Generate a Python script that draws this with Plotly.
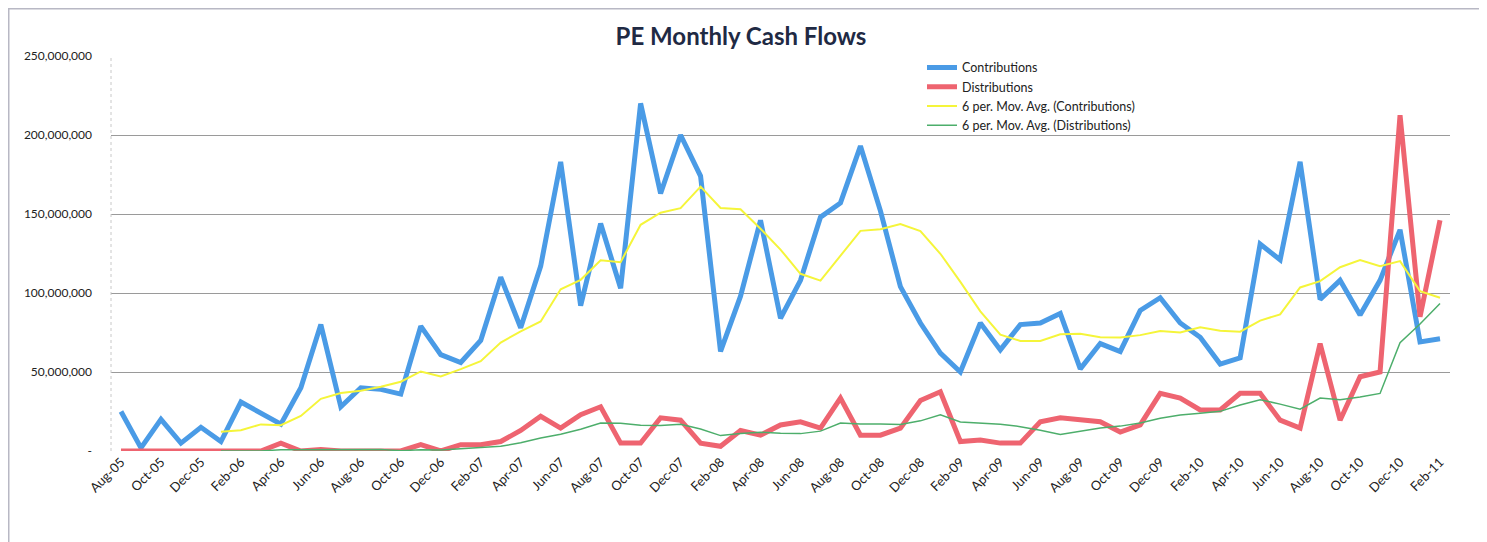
import pandas as pd
import plotly.graph_objects as go

months = pd.date_range("2005-08-01", "2011-02-01", freq="MS")
month_labels = [d.strftime("%b-%y") for d in months]

contributions = [
    25, 2, 20, 5, 15, 6, 31, 24, 17, 40, 80, 28, 40, 39, 36, 79, 61, 56, 70, 110,
    78, 117, 183, 92, 144, 103, 220, 163, 200, 174, 63, 98, 146, 84, 108, 148, 157,
    193, 152, 104, 81, 62, 50, 81, 64, 80, 81, 87, 52, 68, 63, 89, 97, 81, 72, 55,
    59, 131, 121, 183, 96, 108, 86, 108, 140, 69, 71,
]
distributions = [
    0, 0, 0, 0, 0, 0, 0, 0, 5, 0, 1, 0, 0, 0, 0, 4, 0, 4, 4, 6,
    13, 22, 14.5, 23, 28, 5, 5, 21, 19.5, 5, 3, 13, 10, 16.5, 18.5, 14.5, 33.5,
    10, 10, 14.5, 32, 37.5, 6, 7, 5, 5, 18.5, 21, 19.5, 18.5, 12, 16.5, 36.5, 33.5,
    26, 26, 36.5, 36.5, 19.5, 14.5, 68, 19.5, 47, 50, 212.5, 85, 146,
]
contrib = [v * 1e6 for v in contributions]
distrib = [v * 1e6 for v in distributions]

# Excel-style 6 period moving average trendlines (computed from the series)
ma_contrib = pd.Series(contrib).rolling(6).mean().tolist()
ma_distrib = pd.Series(distrib).rolling(6).mean().tolist()

y_tickvals = [0, 50e6, 100e6, 150e6, 200e6, 250e6]
y_ticktext = ["-", "50,000,000", "100,000,000", "150,000,000", "200,000,000", "250,000,000"]
x_tick_labels = month_labels[::2]

FONT = "Lato, 'Open Sans', sans-serif"

# page body has an 8px margin: figure is sized to fit the 1487x542 window
W, H = 1479, 534
L, T, PW, PH = 103, 48, 1339, 395

fig = go.Figure()
fig.add_trace(go.Scatter(x=month_labels, y=contrib, mode="lines", name="Contributions",
                         line=dict(color="#4A9BE6", width=5)))
fig.add_trace(go.Scatter(x=month_labels, y=distrib, mode="lines", name="Distributions",
                         line=dict(color="#EE6470", width=5)))
fig.add_trace(go.Scatter(x=month_labels, y=ma_contrib, mode="lines",
                         name="6 per. Mov. Avg. (Contributions)",
                         line=dict(color="#F5F53A", width=2)))
fig.add_trace(go.Scatter(x=month_labels, y=ma_distrib, mode="lines",
                         name="6 per. Mov. Avg. (Distributions)",
                         line=dict(color="#4DAE6B", width=1.5)))

fig.update_layout(
    width=W, height=H,
    margin=dict(l=L, r=W - L - PW, t=T, b=H - T - PH),
    paper_bgcolor="white", plot_bgcolor="white",
    font=dict(family=FONT, size=12, color="#222"),
    title=dict(text="<b>PE Monthly Cash Flows</b>", x=(741 - 8) / W, xanchor="center",
               y=1 - (37 - 8) / H, yanchor="middle",
               font=dict(family=FONT, size=24, color="#1F2A44")),
    showlegend=True,
    legend=dict(x=(922 - 8 - L) / PW, y=1.008, xanchor="left", yanchor="top",
                bgcolor="rgba(0,0,0,0)", font=dict(size=12.5, color="#222"),
                tracegroupgap=0, itemwidth=30),
    xaxis=dict(type="category", categoryorder="array", categoryarray=month_labels,
               tickmode="array", tickvals=x_tick_labels, ticktext=x_tick_labels,
               tickangle=-45, range=[-0.5, len(month_labels) - 0.5],
               showgrid=False, zeroline=False, showline=False,
               tickfont=dict(size=13, color="#222")),
    yaxis=dict(range=[0, 250e6], tickmode="array", tickvals=y_tickvals,
               ticktext=y_ticktext, showgrid=True, gridcolor="#9a9a9a",
               gridwidth=1, zeroline=False, showline=False,
               ticklabelstandoff=18, tickfont=dict(size=12, color="#222")),
    shapes=[
        dict(type="rect", xref="paper", yref="paper",
             x0=(0.75 - L) / PW, x1=(1475 - L) / PW,
             y0=(T + PH - 600) / PH, y1=(T + PH - 0.75) / PH,
             line=dict(color="#b8b8c4", width=1.5), layer="below"),
        dict(type="line", xref="paper", yref="paper", x0=0, x1=0, y0=0, y1=1,
             line=dict(color="#c8c8c8", width=1, dash="dot")),
    ],
)

fig.write_html("out.html")
